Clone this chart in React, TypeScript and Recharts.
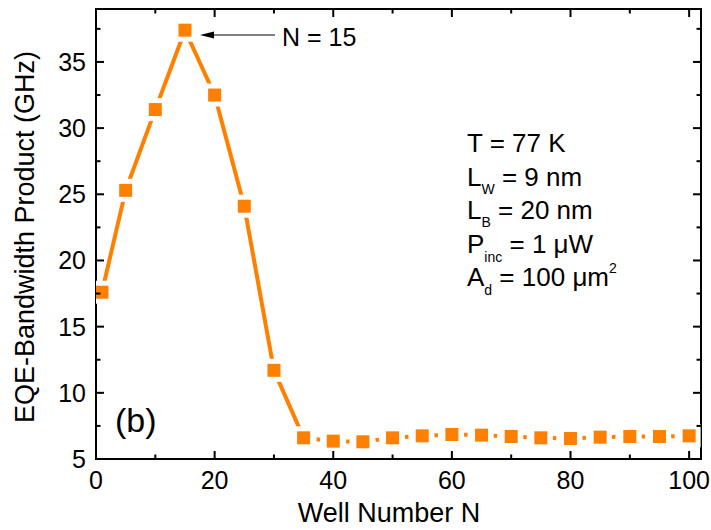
import { Line, LineChart, XAxis, YAxis } from "recharts";

const FONT = "'Liberation Sans', Arial, sans-serif";
const ORANGE = "#ff8000";

const wellNumbers = [1, 5, 10, 15, 20, 25, 30, 35, 40, 45, 50, 55, 60, 65, 70, 75, 80, 85, 90, 95, 100];
const eqeBandwidthGHz = [
  17.6, 25.3, 31.4, 37.4, 32.5, 24.1, 11.7, 6.6, 6.35, 6.3, 6.6, 6.75, 6.85, 6.8, 6.7, 6.6, 6.55,
  6.65, 6.7, 6.7, 6.75,
];
// solid line up to here, dotted after
const solidUntil = 35;

const xTicks = [0, 10, 20, 30, 40, 50, 60, 70, 80, 90, 100];
const yTicks = [5, 7.5, 10, 12.5, 15, 17.5, 20, 22.5, 25, 27.5, 30, 32.5, 35, 37.5];
const xDomain = [0, 102];
const yDomain = [5, 39];

const rows = wellNumbers.map((n, i) => ({
  n,
  value: eqeBandwidthGHz[i],
  solid: n <= solidUntil ? eqeBandwidthGHz[i] : null,
  dotted: n >= solidUntil ? eqeBandwidthGHz[i] : null,
}));

const W = 711;
const H = 530;
const margin = { top: 9, right: 10, left: 0, bottom: 0 };
const yAxisW = 96;
const xAxisH = 71;
const plotW = W - margin.left - margin.right - yAxisW;
const plotH = H - margin.top - margin.bottom - xAxisH;

const isMajorX = (v: number) => v % 20 === 0;
const isMajorY = (v: number) => v % 5 === 0;

// bottom ticks point inward, and are mirrored on the top edge
function BottomTick({ x, y, payload }: any) {
  const len = isMajorX(payload.value) ? 8 : 4.5;
  const top = y - plotH;
  return (
    <g>
      <line x1={x} x2={x} y1={y} y2={y - len} stroke="#000" strokeWidth={2} />
      <line x1={x} x2={x} y1={top} y2={top + len} stroke="#000" strokeWidth={2} />
      {isMajorX(payload.value) && (
        <text x={x} y={y + 30} textAnchor="middle" fontSize={25} fontFamily={FONT} fill="#000">
          {payload.value}
        </text>
      )}
    </g>
  );
}

// left ticks point inward, and are mirrored on the right edge
function LeftTick({ x, y, payload }: any) {
  const len = isMajorY(payload.value) ? 8 : 4.5;
  const right = x + plotW;
  return (
    <g>
      <line x1={x} x2={x + len} y1={y} y2={y} stroke="#000" strokeWidth={2} />
      <line x1={right} x2={right - len} y1={y} y2={y} stroke="#000" strokeWidth={2} />
      {isMajorY(payload.value) && (
        <text x={x - 10} y={y} dy="0.36em" textAnchor="end" fontSize={25} fontFamily={FONT} fill="#000">
          {payload.value}
        </text>
      )}
    </g>
  );
}

// square marker; the white square behind it leaves the gap between line and symbol
function Marker({ cx, cy, index }: any) {
  if (cx == null || cy == null) return <g key={index} />;
  return (
    <g key={index}>
      <rect x={cx - 11.5} y={cy - 11.5} width={23} height={23} fill="#fff" />
      <rect x={cx - 6.5} y={cy - 6.5} width={13} height={13} fill={ORANGE} />
    </g>
  );
}

function Notes() {
  const left = margin.left + yAxisW;
  return (
    <g fontFamily={FONT} fill="#000">
      {/* plot frame on top of the markers */}
      <rect x={left} y={margin.top} width={plotW} height={plotH} fill="none" stroke="#000" strokeWidth={2} />

      <text x={389} y={522} textAnchor="middle" fontSize={27}>
        Well Number N
      </text>
      <text x={34} y={237} textAnchor="middle" fontSize={27} transform="rotate(-90 34 237)">
        EQE-Bandwidth Product (GHz)
      </text>
      <text x={115} y={432} fontSize={34}>
        (b)
      </text>

      <line x1={210} y1={35} x2={275} y2={35} stroke="#000" strokeWidth={1} />
      <polygon points="200,35 214,31.5 214,38.5" fill="#000" />
      <text x={282} y={46} fontSize={25}>
        N = 15
      </text>

      <g fontSize={26}>
        <text x={467} y={152}>T = 77 K</text>
        <text x={467} y={185.5}>
          L<tspan fontSize={14} dy={8}>W</tspan>
          <tspan dy={-8}> = 9 nm</tspan>
        </text>
        <text x={467} y={219}>
          L<tspan fontSize={14} dy={8}>B</tspan>
          <tspan dy={-8}> = 20 nm</tspan>
        </text>
        <text x={467} y={252.5}>
          P<tspan fontSize={14} dy={9}>inc</tspan>
          <tspan dy={-9}> = 1 μW</tspan>
        </text>
        <text x={467} y={286}>
          A<tspan fontSize={14} dy={9}>d</tspan>
          <tspan dy={-9}> = 100 μm</tspan>
          <tspan fontSize={14} dy={-13}>2</tspan>
        </text>
      </g>
    </g>
  );
}

export default function App() {
  const axisLine = { stroke: "#000", strokeWidth: 2 };
  return (
    <div style={{ position: "absolute", left: 0, top: 0, background: "#fff" }}>
      <LineChart width={W} height={H} data={rows} margin={margin}>
        <Line
          dataKey="solid"
          stroke={ORANGE}
          strokeWidth={4}
          dot={false}
          activeDot={false}
          isAnimationActive={false}
        />
        <Line
          dataKey="dotted"
          stroke={ORANGE}
          strokeWidth={4}
          strokeDasharray="3.5 11.3"
          strokeDashoffset={1.75}
          dot={false}
          activeDot={false}
          isAnimationActive={false}
        />
        <Line
          dataKey="value"
          stroke="none"
          dot={Marker}
          activeDot={false}
          isAnimationActive={false}
        />
        <XAxis
          dataKey="n"
          type="number"
          domain={xDomain}
          ticks={xTicks}
          interval={0}
          height={xAxisH}
          tickSize={0}
          tickMargin={0}
          tick={BottomTick}
          axisLine={axisLine}
          allowDataOverflow
        />
        <YAxis
          type="number"
          domain={yDomain}
          ticks={yTicks}
          interval={0}
          width={yAxisW}
          tickSize={0}
          tickMargin={0}
          tick={LeftTick}
          axisLine={axisLine}
          allowDataOverflow
        />
        <Notes />
      </LineChart>
    </div>
  );
}
